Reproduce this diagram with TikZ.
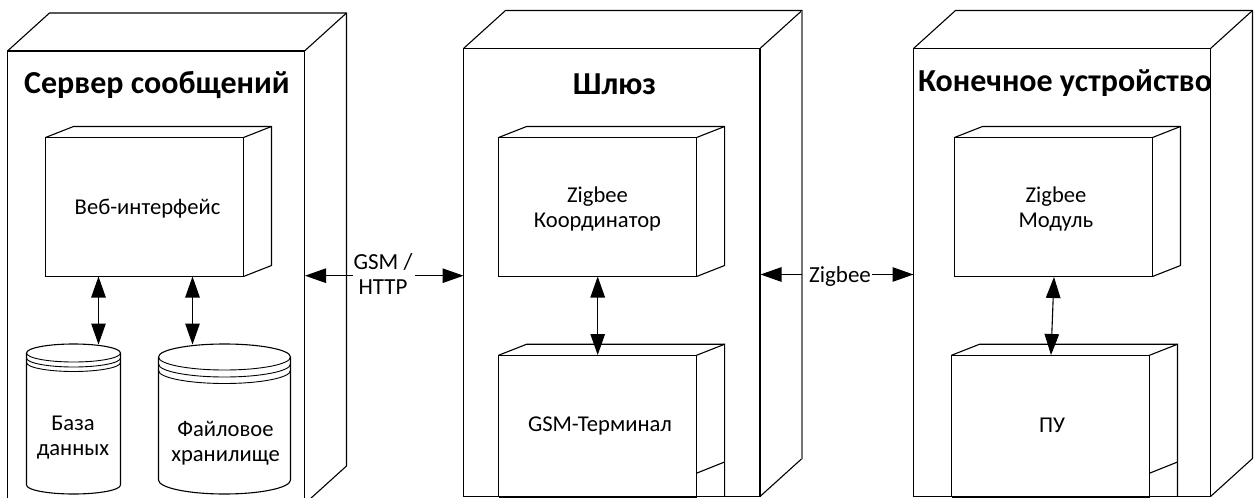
\documentclass[tikz,border=0pt]{standalone}
\usepackage{fontspec}
\setmainfont{Carlito}
\usetikzlibrary{calc,arrows.meta}
\tikzset{
  ln/.style={draw=black,line width=1.1pt},
  rim/.style={draw=black,line width=0.9pt},
  face/.style={ln,rectangle,inner sep=0pt,outer sep=0pt},
  title/.style={font=\fontsize{32}{34}\selectfont\bfseries,inner sep=0pt},
  lab/.style={font=\fontsize{22.6}{25.5}\selectfont,align=center,inner sep=0pt},
  wire/.style={font=\fontsize{23}{24.5}\selectfont,align=center,inner sep=0pt},
  conn/.style={line width=1.1pt,{Triangle[length=21pt,width=14.5pt]}-{Triangle[length=21pt,width=14.5pt]}},
  conntip/.style={line width=1.1pt,-{Triangle[length=21pt,width=14.5pt]}},
}
\newcommand\boxdepth[3]{%
  \draw[ln,line join=round] (#1.north west) -- ++(#2,-#3) -- ($(#1.north east)+(#2,-#3)$) -- ($(#1.south east)+(#2,-#3)$) -- (#1.south east);
  \draw[ln] (#1.north east) -- ++(#2,-#3);}
\begin{document}
\begin{tikzpicture}[x=1pt,y=-1pt]
\useasboundingbox (0,0) rectangle (1259,498);
\clip (0,0) rectangle (1259,498);
% outer
\node[face,minimum width=297pt,minimum height=453pt] (srv) at (156,277.5) {};
\boxdepth{srv}{42}{38}
\node[face,minimum width=296.5pt,minimum height=448pt] (gw) at (611.75,272.5) {};
\boxdepth{gw}{42}{38}
\draw[draw=black!55,line width=1.6pt] ($(gw.north east)+(42,-38)$) -- ($(gw.south east)+(42,-38)$);
\node[face,minimum width=297pt,minimum height=448pt] (dev) at (1062,272.5) {};
\boxdepth{dev}{42}{38}
% inner
\node[face,minimum width=198pt,minimum height=139pt] (web) at (144.5,207) {};
\boxdepth{web}{28}{11}
\node[face,minimum width=198pt,minimum height=139pt] (zc) at (597.6,207) {};
\boxdepth{zc}{28}{11}
\node[face,minimum width=198pt,minimum height=139pt] (zm) at (1053.5,207) {};
\boxdepth{zm}{28}{11}
\node[face,minimum width=198pt,minimum height=141.5pt] (gsm) at (597.6,426) {};
\draw[ln] (gsm.north west) -- ++(28,-11) -- ($(gsm.north east)+(28,-11)$) -- ($(gsm.south east)+(28,0)$);
\draw[ln] (gsm.north east) -- ++(28,-11);
\draw[ln] (697,473) -- (724.5,462);
\draw[line width=2pt] (gsm.south west) -- (gsm.south east);
\node[face,minimum width=198pt,minimum height=141.5pt] (pu) at (1050.5,426) {};
\draw[ln] (pu.north west) -- ++(28,-11) -- ($(pu.north east)+(28,-11)$) -- ($(pu.south east)+(28,0)$);
\draw[ln] (pu.north east) -- ++(28,-11);
\draw[ln] (1150,473) -- (1177.5,462);
\draw[line width=2pt] (pu.south west) -- (pu.south east);
% cylinders
\draw[ln] (26.5,353) arc[x radius=47,y radius=9,start angle=180,end angle=360] -- (120.5,485) arc[x radius=47,y radius=9,start angle=0,end angle=180] -- cycle;
\foreach \yy in {353,358,362.5}{\draw[rim] (26.5,\yy) arc[x radius=47,y radius=9,start angle=180,end angle=0];}
\draw[ln] (158.5,357) arc[x radius=66,y radius=13,start angle=180,end angle=360] -- (290.5,480) arc[x radius=66,y radius=14,start angle=0,end angle=180] -- cycle;
\foreach \yy in {357,364,370.5}{\draw[rim] (158.5,\yy) arc[x radius=66,y radius=13,start angle=180,end angle=0];}
% titles
\node[title] (t1) at (157,85) {Сервер сообщений};
\node[title] (t2) at (614.5,84) {Шлюз};
\node[title] (t3) at (1065,83.5) {Конечное устройство};
% labels
\node[lab] (l1) at (147.5,208.5) {Веб-интерфейс};
\node[lab] (l2) at (597.5,209) {Zigbee\\Координатор};
\node[lab] (l3) at (1056,209) {Zigbee\\Модуль};
\node[lab] (l4) at (600,426) {GSM-Терминал};
\node[lab] (l5) at (1052,425) {ПУ};
\node[lab] (l6) at (73,437.5) {База\\данных};
\node[lab] (l7) at (225.5,443) {Файловое\\хранилище};
% connectors
\coordinate (a1) at (98.5,276.5); \coordinate (b1) at (98.5,344.5);
\coordinate (a2) at (192.5,276.5); \coordinate (b2) at (192.5,344.5);
\draw[conn] (a1) -- (b1);
\draw[conn] (a2) -- (b2);
\draw[conn] (597.7,276.5) -- (597.7,355);
\draw[conn] (1054,277) -- (1051,355);
\node[wire] (gsmlab) at (383,274) {GSM /\\HTTP};
\coordinate (g1) at (353,275.7); \coordinate (g2) at (415,275.7);
\draw[conntip] (g1) -- (305,275.7);
\draw[conntip] (g2) -- (463.5,275.7);
\node[wire] (zb) at (840,276.5) {Zigbee};
\coordinate (z1) at (802,274.5); \coordinate (z2) at (872,274.5);
\draw[conntip] (z1) -- (760.5,274.5);
\draw[conntip] (z2) -- (913.5,274.5);
\end{tikzpicture}
\end{document}
